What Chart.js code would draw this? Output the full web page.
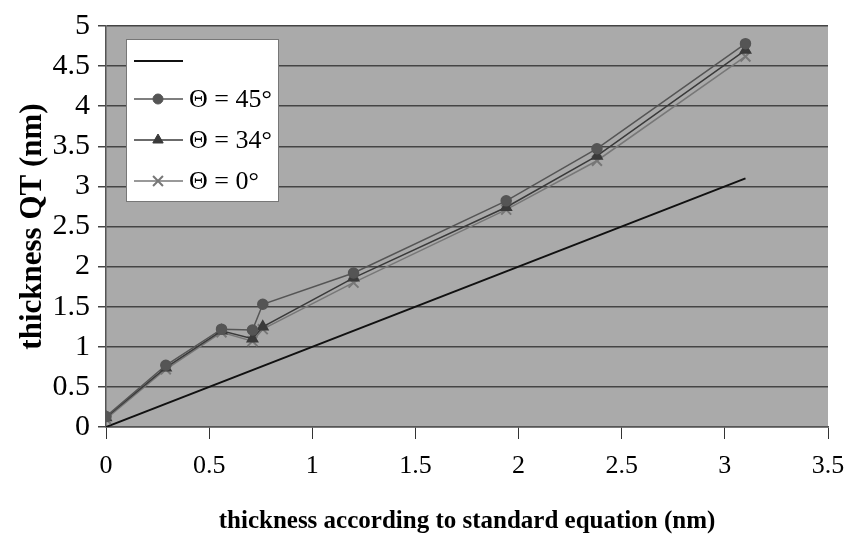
<!DOCTYPE html>
<html>
<head>
<meta charset="utf-8">
<script src="https://cdn.jsdelivr.net/npm/chart.js@4"></script>
<style>
  html, body { margin: 0; padding: 0; background: #fff; }
  #wrap { width: 845px; height: 537px; }
</style>
</head>
<body>
<div id="wrap"><canvas id="c" width="845" height="537"></canvas></div>
<script>
// ---------- data ----------
const xStd = [0, 0.29, 0.56, 0.71, 0.76, 1.2, 1.94, 2.38, 3.1];
const theta45 = [0.13, 0.77, 1.22, 1.21, 1.53, 1.92, 2.82, 3.47, 4.78];
const theta34 = [0.12, 0.74, 1.2, 1.1, 1.25, 1.86, 2.74, 3.38, 4.7];
const theta0 = [0.1, 0.72, 1.18, 1.07, 1.22, 1.8, 2.71, 3.32, 4.62];
const refX = [0, 3.1];
const refY = [0, 3.1];
const legendLabels = ["", "\u0398 = 45\u00b0", "\u0398 = 34\u00b0", "\u0398 = 0\u00b0"];

const pts = (xs, ys) => xs.map((x, i) => ({ x: x, y: ys[i] }));

// ---------- plugins ----------
const plotBg = {
  id: "plotBg",
  beforeDraw(chart) {
    const { ctx, chartArea: a } = chart;
    ctx.save();
    ctx.fillStyle = "#aaaaaa";
    ctx.fillRect(a.left, a.top, a.right - a.left, a.bottom - a.top);
    ctx.restore();
  }
};

const boxLegend = {
  id: "boxLegend",
  afterDraw(chart) {
    const ctx = chart.ctx;
    const ds = chart.data.datasets;
    ctx.save();
    ctx.fillStyle = "#fff";
    ctx.fillRect(126, 39, 152, 162);
    ctx.strokeStyle = "#777";
    ctx.lineWidth = 1;
    ctx.strokeRect(126.5, 39.5, 152, 162);
    const rows = [61, 99, 140, 181];
    // legend order: reference line, 45, 34, 0
    const order = [3, 0, 1, 2];
    rows.forEach((y, i) => {
      const d = ds[order[i]];
      ctx.strokeStyle = d.borderColor;
      ctx.lineWidth = d.borderWidth;
      ctx.beginPath();
      ctx.moveTo(134, y);
      ctx.lineTo(183, y);
      ctx.stroke();
      if (d.pointStyle && d.pointRadius > 0) {
        ctx.fillStyle = d.pointBackgroundColor;
        ctx.strokeStyle = d.pointBorderColor;
        ctx.lineWidth = d.pointBorderWidth || 1;
        Chart.helpers.drawPoint(ctx, {
          pointStyle: d.pointStyle, radius: d.pointRadius,
          rotation: d.pointRotation || 0, borderWidth: ctx.lineWidth
        }, 158, y);
      }
      ctx.fillStyle = "#000";
      ctx.font = "26px 'Liberation Serif'";
      ctx.textBaseline = "middle";
      ctx.fillText(legendLabels[i], 189, y + 1);
    });
    ctx.restore();
  }
};

// ---------- chart ----------
new Chart(document.getElementById("c"), {
  type: "scatter",
  data: {
    datasets: [
      {
        label: legendLabels[1],
        data: pts(xStd, theta45),
        showLine: true,
        borderColor: "#555",
        borderWidth: 1.5,
        pointStyle: "circle",
        pointRadius: 5,
        pointBackgroundColor: "#555",
        pointBorderColor: "#555"
      },
      {
        label: legendLabels[2],
        data: pts(xStd, theta34),
        showLine: true,
        borderColor: "#3a3a3a",
        borderWidth: 1.5,
        pointStyle: "triangle",
        pointRadius: 6,
        pointBackgroundColor: "#3a3a3a",
        pointBorderColor: "#3a3a3a"
      },
      {
        label: legendLabels[3],
        data: pts(xStd, theta0),
        showLine: true,
        borderColor: "#777",
        borderWidth: 1.5,
        pointStyle: "cross",
        pointRotation: 45,
        pointRadius: 7,
        pointBorderWidth: 2,
        pointBackgroundColor: "#777",
        pointBorderColor: "#777"
      },
      {
        label: legendLabels[0],
        data: pts(refX, refY),
        showLine: true,
        borderColor: "#111",
        borderWidth: 2,
        pointRadius: 0
      }
    ]
  },
  options: {
    responsive: false,
    animation: false,
    layout: { padding: { left: 14, right: 0, top: 18, bottom: 0 } },
    plugins: {
      legend: { display: false },
      tooltip: { enabled: false }
    },
    scales: {
      x: {
        type: "linear",
        min: 0,
        max: 3.5,
        ticks: {
          stepSize: 0.5,
          autoSkip: false,
          color: "#000",
          padding: 12,
          font: { family: "'Liberation Serif'", size: 26 },
          callback: (v) => String(v)
        },
        grid: {
          drawOnChartArea: false,
          color: "#333",
          tickLength: 12
        },
        border: { color: "#555", width: 1.5 },
        title: {
          display: true,
          text: "thickness according to standard equation (nm)",
          color: "#000",
          padding: { top: 18, bottom: 0 },
          font: { family: "'Liberation Serif'", size: 25, weight: "bold" }
        },
        afterFit(s) { s.height = 110; s.paddingRight = 17; }
      },
      y: {
        min: 0,
        max: 5,
        ticks: {
          stepSize: 0.5,
          autoSkip: false,
          color: "#000",
          padding: 8,
          font: { family: "'Liberation Serif'", size: 30 },
          callback: (v) => String(v)
        },
        grid: {
          color: "#444",
          lineWidth: 1.5,
          tickLength: 8
        },
        border: { color: "#555", width: 1.5 },
        title: {
          display: true,
          text: "thickness QT (nm)",
          color: "#000",
          padding: { top: 0, bottom: 2 },
          font: { family: "'Liberation Serif'", size: 31, weight: "bold" }
        },
        afterFit(s) { s.width = 92; }
      }
    }
  },
  plugins: [plotBg, boxLegend]
});
</script>
</body>
</html>
